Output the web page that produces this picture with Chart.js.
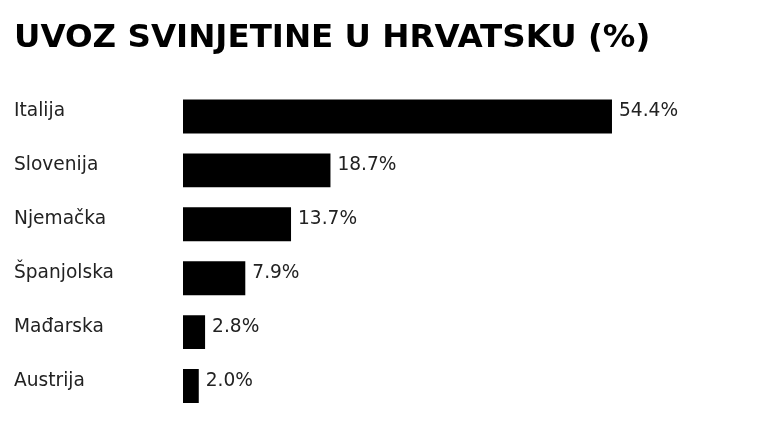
<!DOCTYPE html>
<html>
<head>
<meta charset="utf-8">
<script src="https://cdn.jsdelivr.net/npm/chart.js@4"></script>
<style>
  html, body { margin: 0; padding: 0; background: #fff; }
  #wrap { width: 760px; height: 428px; }
</style>
</head>
<body>
<div id="wrap"><canvas id="uvoz"></canvas></div>
<script>
// uvoz svinjetine po zemljama (%)
var countries = ["Italija", "Slovenija", "Njemačka", "Španjolska", "Mađarska", "Austrija"];
var shares = [54.4, 18.7, 13.7, 7.9, 2.8, 2.0];

// value labels after each bar
var valueLabels = {
  id: 'valueLabels',
  afterDatasetsDraw: function(chart) {
    var ctx = chart.ctx;
    var meta = chart.getDatasetMeta(0);
    ctx.save();
    ctx.font = '18.6px "DejaVu Sans"';
    ctx.fillStyle = '#222';
    ctx.textAlign = 'left';
    ctx.textBaseline = 'middle';
    meta.data.forEach(function(bar, i) {
      ctx.fillText(shares[i].toFixed(1) + '%', bar.x + 7, bar.y - 5);
    });
    ctx.restore();
  }
};

new Chart(document.getElementById("uvoz"), {
  type: 'bar',
  data: {
    labels: countries,
    datasets: [{
      data: shares,
      backgroundColor: '#000',
      borderWidth: 0,
      barPercentage: 0.63,
      categoryPercentage: 1
    }]
  },
  options: {
    indexAxis: 'y',
    responsive: true,
    maintainAspectRatio: false,
    animation: false,
    layout: { padding: { left: 14, right: 25, top: 0, bottom: 15 } },
    plugins: {
      legend: { display: false },
      tooltip: { enabled: false },
      title: {
        display: true,
        text: 'UVOZ SVINJETINE U HRVATSKU (%)',
        align: 'start',
        color: '#000',
        font: { family: '"DejaVu Sans"', size: 32.5, weight: 'bold', lineHeight: 1.2 },
        padding: { top: 19, bottom: 31.5 }
      }
    },
    scales: {
      x: {
        display: false,
        min: 0,
        max: 70
      },
      y: {
        grid: { display: false },
        border: { display: false },
        afterFit: function(axis) { axis.width = 169; },
        ticks: {
          crossAlign: 'far',
          color: '#222',
          labelOffset: -5,
          font: { family: '"DejaVu Sans"', size: 18.6 }
        }
      }
    }
  },
  plugins: [valueLabels]
});
</script>
</body>
</html>
